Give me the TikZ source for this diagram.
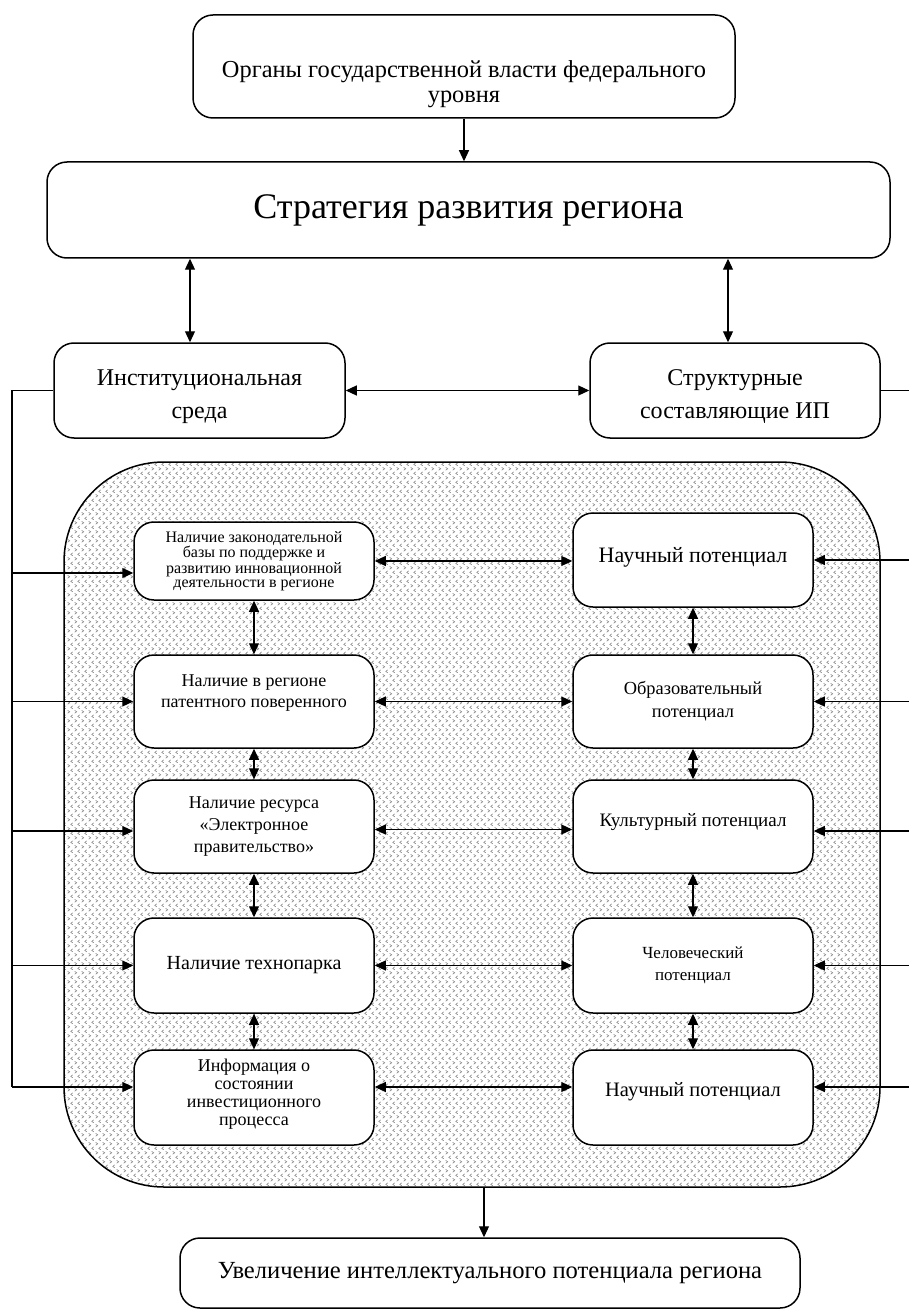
\documentclass[tikz,border=0pt]{standalone}
\usepackage{fontspec}
\setmainfont{Liberation Serif}
\usetikzlibrary{arrows.meta,patterns}

% dotted chevrons for the inner field
\pgfdeclarepatternformonly{chevrons}{\pgfpointorigin}{\pgfpoint{6.7pt}{9.4pt}}{\pgfpoint{6.7pt}{9.4pt}}{
  \pgfsetlinewidth{0.5pt}
  \pgfpathmoveto{\pgfpoint{0.7pt}{3.9pt}}
  \pgfpathlineto{\pgfpoint{2.8pt}{2.35pt}}
  \pgfpathlineto{\pgfpoint{0.7pt}{0.8pt}}
  \pgfpathmoveto{\pgfpoint{6.0pt}{8.6pt}}
  \pgfpathlineto{\pgfpoint{3.9pt}{7.05pt}}
  \pgfpathlineto{\pgfpoint{6.0pt}{5.5pt}}
  \pgfusepath{stroke}
}

% push the text of a box down or up
\newcommand{\sink}[1]{\rule{0pt}{#1}}
\newcommand{\lift}[1]{\rule[-#1]{0pt}{#1}}

\begin{document}
\begin{tikzpicture}[
    x=1pt, y=-1pt,
    box/.style={
      rectangle,
      draw=black,
      line width=1.5pt,
      fill=white,
      align=center,
      rounded corners=20pt,
      inner sep=2pt
    },
    field/.style={
      draw=black,
      line width=1.5pt,
      pattern=chevrons,
      pattern color=black!55,
      rounded corners=100pt
    },
    line/.style={line width=1.1pt},
    arr/.style={line, -{Triangle[length=11pt,width=10pt]}},
    dbl/.style={line, {Triangle[length=11pt,width=10pt]}-{Triangle[length=11pt,width=10pt]}}
]
\useasboundingbox (0,0) rectangle (908,1313);

\node[field, minimum width=816pt, minimum height=725pt] (zone) at (472,824.5) {};

\node[box, minimum width=542pt, minimum height=103pt, font=\fontsize{24.4}{25}\selectfont] (top) at (464,66.5)
  {\sink{52pt}Органы государственной власти федерального\\уровня};
\node[box, minimum width=843pt, minimum height=96pt, font=\fontsize{36}{40}\selectfont] (strat) at (468.5,210)
  {Стратегия развития региона};

\node[box, minimum width=291pt, minimum height=95pt, font=\fontsize{24}{33}\selectfont] (inst) at (199.5,390.5)
  {\sink{28pt}Институциональная\\среда};
\node[box, minimum width=290pt, minimum height=95pt, font=\fontsize{24}{33}\selectfont] (struct) at (735,390.5)
  {\sink{28pt}Структурные\\составляющие ИП};

\draw[arr] (top.south) -- (top.south |- strat.north);
\draw[dbl] ([xshift=-9.5pt]inst.north |- strat.south) -- ([xshift=-9.5pt]inst.north);
\draw[dbl] ([xshift=-7pt]struct.north |- strat.south) -- ([xshift=-7pt]struct.north);
\draw[dbl] (inst.east) -- (struct.west);

% left column
\node[box, minimum width=240pt, minimum height=78pt, font=\fontsize{16}{14}\selectfont] (l1) at (254,561)
  {Наличие законодательной\\базы по поддержке и\\развитию инновационной\\деятельности в регионе};
\node[box, minimum width=240pt, minimum height=93pt, font=\fontsize{18}{21}\selectfont] (l2) at (254,701.5)
  {Наличие в регионе\\патентного поверенного\lift{20pt}};
\node[box, minimum width=240pt, minimum height=93pt, font=\fontsize{18}{22}\selectfont] (l3) at (254,826.5)
  {Наличие ресурса\\«Электронное\\правительство»};
\node[box, minimum width=240pt, minimum height=95pt, font=\fontsize{20}{22}\selectfont] (l4) at (254,965.5)
  {Наличие технопарка};
\node[box, minimum width=240pt, minimum height=95pt, font=\fontsize{18}{18}\selectfont] (l5) at (254,1097.5)
  {Информация о\\состоянии\\инвестиционного\\процесса\lift{10pt}};

% right column
\node[box, minimum width=240pt, minimum height=94pt, font=\fontsize{22}{24}\selectfont] (r1) at (693,560)
  {Научный потенциал\lift{11pt}};
\node[box, minimum width=240pt, minimum height=93pt, font=\fontsize{18.4}{23}\selectfont] (r2) at (693,701.5)
  {Образовательный\\потенциал};
\node[box, minimum width=240pt, minimum height=93pt, font=\fontsize{19}{22}\selectfont] (r3) at (693,826.5)
  {Культурный потенциал\lift{14pt}};
\node[box, minimum width=240pt, minimum height=95pt, font=\fontsize{17}{22}\selectfont] (r4) at (693,965.5)
  {Человеческий\\потенциал};
\node[box, minimum width=240pt, minimum height=95pt, font=\fontsize{20.5}{24}\selectfont] (r5) at (693,1097.5)
  {Научный потенциал\lift{16pt}};

\node[box, minimum width=620pt, minimum height=70pt, font=\fontsize{24.6}{30}\selectfont] (bot) at (490,1273)
  {Увеличение интеллектуального потенциала региона};

% levels of the feeding arrows
\coordinate (f1) at ([yshift=-12pt]l1.west);
\coordinate (f3) at ([yshift=-4.5pt]l3.west);
\coordinate (f5) at ([yshift=10.5pt]l5.west);
\coordinate (g3) at ([yshift=-4.5pt]r3.east);
\coordinate (g5) at ([yshift=10.5pt]r5.east);
\coordinate (lbus) at (12,0);
\coordinate (rbus) at (912,0);

\draw[line] (inst.west) -| (lbus |- f5);
\draw[arr] (lbus |- f1) -- (f1);
\draw[arr] (lbus |- l2.west) -- (l2.west);
\draw[arr] (lbus |- f3) -- (f3);
\draw[arr] (lbus |- l4.west) -- (l4.west);
\draw[arr] (lbus |- f5) -- (f5);

\draw[line] (struct.east) -| (rbus |- g5);
\draw[arr] (rbus |- r1.east) -- (r1.east);
\draw[arr] (rbus |- r2.east) -- (r2.east);
\draw[arr] (rbus |- g3) -- (g3);
\draw[arr] (rbus |- r4.east) -- (r4.east);
\draw[arr] (rbus |- g5) -- (g5);

% between the columns
\draw[dbl] (l1.east) -- (l1.east -| r1.west);
\draw[dbl] (l2.east) -- (r2.west);
\draw[dbl] ([yshift=-3pt]l3.east) -- ([yshift=-3pt]r3.west);
\draw[dbl] (l4.east) -- (r4.west);
\draw[dbl] ([yshift=10.5pt]l5.east) -- ([yshift=10.5pt]r5.west);

% down the columns
\draw[dbl] (l1) -- (l2);
\draw[dbl] (l2) -- (l3);
\draw[dbl] (l3) -- (l4);
\draw[dbl] (l4) -- (l5);
\draw[dbl] (r1) -- (r2);
\draw[dbl] (r2) -- (r3);
\draw[dbl] (r3) -- (r4);
\draw[dbl] (r4) -- (r5);

\draw[arr] ([xshift=-6pt]bot.north |- zone.south) -- ([xshift=-6pt]bot.north);

\end{tikzpicture}
\end{document}
